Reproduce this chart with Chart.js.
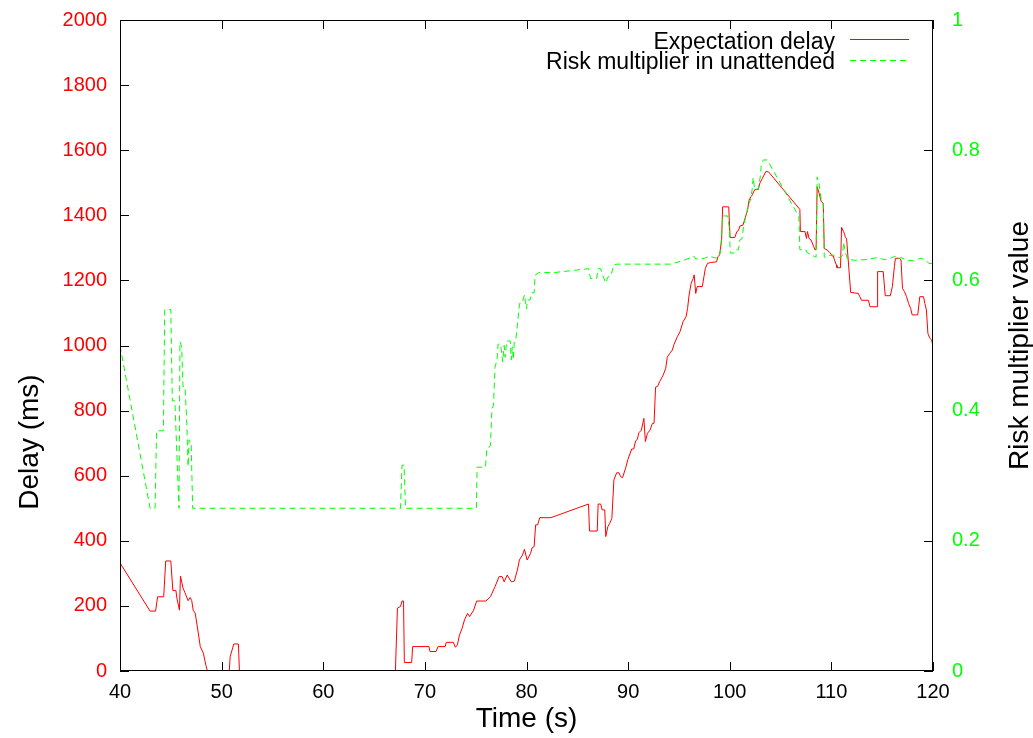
<!DOCTYPE html>
<html><head><meta charset="utf-8">
<script src="https://cdn.jsdelivr.net/npm/chart.js@4"></script>
<style>html,body{margin:0;padding:0;background:#fff;overflow:hidden}</style>
</head><body>
<canvas id="c" width="1033" height="738"></canvas>
<script>
// ---- data ----
const delayTime = [40.0,42.96,43.5,43.7,44.3,44.5,45.0,45.2,45.5,45.6,45.85,45.95,46.2,46.4,46.7,46.9,47.06,47.2,47.4,47.7,47.9,48.2,48.45,48.6,50.75,50.84,51.2,51.65,51.75,67.1,67.3,67.6,67.75,67.9,67.98,68.7,68.8,70.4,70.5,71.1,71.3,72.0,72.1,72.8,73.0,73.2,73.4,73.66,73.9,74.2,74.4,74.8,75.1,76.0,76.45,76.9,77.3,77.6,77.8,78.1,78.5,78.8,79.1,79.3,79.6,79.8,80.06,80.4,80.56,80.75,80.9,81.1,81.3,82.4,86.1,86.2,86.96,87.05,87.3,87.45,87.7,87.8,88.0,88.2,88.4,88.6,88.87,89.1,89.26,89.45,89.75,89.98,90.35,90.55,90.74,90.9,91.06,91.3,91.55,91.7,91.9,92.15,92.4,92.55,92.7,92.9,93.1,93.45,93.7,93.85,94.1,94.35,94.5,94.84,95.1,95.4,95.7,95.85,96.0,96.2,96.4,96.5,96.65,96.8,97.3,97.46,97.6,97.8,98.1,98.7,98.85,99.0,99.2,99.3,99.9,100.03,100.5,100.7,100.85,101.0,101.3,101.5,101.75,101.9,102.07,102.2,102.46,102.8,102.98,103.2,103.55,103.8,106.9,106.95,107.4,107.55,107.65,107.8,108.0,108.25,108.4,108.5,108.6,108.8,109.0,109.2,109.3,109.6,109.85,110.1,110.2,110.3,110.5,110.55,110.9,111.0,111.2,111.3,111.35,111.5,111.9,112.65,112.8,112.96,113.65,113.8,114.5,114.55,115.1,115.3,115.8,116.0,116.2,116.3,116.7,116.85,117.0,117.2,117.4,117.6,117.8,117.95,118.5,118.7,119.07,119.2,119.35,119.5,119.7,119.87,120.0];
const delayMs = [332,184,184,228,228,338,338,247,247,224,187,292,255,240,216,226,216,187,178,117,75,55,18,0,0,44,83,83,0,0,193,198,215,215,26,26,75,75,60,60,75,75,88,88,73,80,110,131,157,177,167,187,215,215,228,259,290,290,274,295,274,276,310,341,356,374,341,361,379,382,449,449,471,471,513,430,430,513,513,495,495,413,443,454,469,587,609,609,597,594,623,650,682,682,707,711,732,740,776,705,730,740,761,761,872,874,889,909,930,964,976,986,1002,1027,1042,1073,1088,1114,1155,1191,1206,1217,1160,1181,1181,1211,1237,1252,1255,1257,1273,1278,1324,1426,1426,1332,1332,1350,1353,1367,1370,1390,1416,1446,1457,1462,1479,1479,1500,1513,1534,1534,1418,1350,1350,1329,1350,1329,1324,1305,1293,1298,1488,1467,1442,1437,1298,1293,1285,1275,1275,1263,1247,1239,1239,1363,1350,1342,1335,1327,1163,1160,1150,1139,1139,1119,1119,1227,1227,1153,1153,1181,1242,1268,1268,1263,1175,1165,1150,1129,1114,1094,1094,1150,1150,1129,1109,1037,1022,1017,996];

const riskTime = [40.0,42.96,43.45,43.6,44.27,44.4,45.0,45.15,45.4,45.8,45.9,46.07,46.2,46.4,46.56,46.7,46.8,47.0,47.15,67.6,67.75,67.95,68.1,75.07,75.14,75.96,76.1,76.45,76.6,76.75,76.9,77.1,77.2,77.45,77.66,77.8,77.9,78.05,78.4,78.5,78.6,78.7,78.8,78.95,79.1,79.3,79.4,79.6,79.8,79.9,80.0,80.1,80.35,80.5,80.75,80.85,81.2,82.7,86.1,86.3,86.9,87.05,87.3,87.5,87.8,88.0,88.3,88.6,88.9,94.2,95.5,96.5,96.65,97.5,98.0,98.45,98.8,98.95,99.1,99.3,99.8,99.96,100.05,100.45,100.6,100.85,101.0,101.2,101.35,101.6,101.8,102.07,102.2,102.3,102.46,102.8,103.0,103.1,103.3,103.7,106.8,106.9,107.5,107.6,108.1,108.4,108.5,108.6,108.75,108.9,109.0,109.2,109.3,109.6,109.8,110.2,110.5,110.9,111.1,111.2,111.3,111.4,111.6,112.4,113.4,114.5,115.2,115.7,116.1,116.3,116.6,116.85,117.5,118.1,118.8,119.3,119.6,120.0];
const riskValue = [0.50,0.25,0.25,0.369,0.369,0.555,0.555,0.415,0.415,0.25,0.506,0.498,0.437,0.437,0.386,0.314,0.355,0.352,0.25,0.25,0.316,0.316,0.25,0.25,0.313,0.313,0.342,0.346,0.403,0.408,0.467,0.478,0.502,0.502,0.475,0.50,0.482,0.507,0.507,0.478,0.498,0.478,0.506,0.509,0.531,0.562,0.567,0.567,0.578,0.567,0.556,0.57,0.57,0.581,0.581,0.608,0.612,0.612,0.618,0.603,0.603,0.618,0.618,0.608,0.596,0.605,0.607,0.624,0.625,0.625,0.631,0.637,0.633,0.634,0.637,0.635,0.634,0.639,0.644,0.699,0.699,0.68,0.642,0.642,0.647,0.647,0.662,0.664,0.682,0.70,0.713,0.726,0.739,0.758,0.739,0.741,0.759,0.777,0.785,0.785,0.698,0.647,0.647,0.643,0.639,0.636,0.636,0.759,0.752,0.736,0.724,0.719,0.636,0.635,0.638,0.639,0.636,0.635,0.639,0.659,0.649,0.642,0.632,0.631,0.632,0.635,0.632,0.633,0.636,0.637,0.633,0.635,0.631,0.630,0.634,0.631,0.626,0.626];

const xTicks = [40,50,60,70,80,90,100,110,120];
const delayTicks = [0,200,400,600,800,1000,1200,1400,1600,1800,2000];
const riskTicks = [0,0.2,0.4,0.6,0.8,1];

const seriesNames = ['Expectation delay','Risk multiplier in unattended'];
const axisTitles = {x:'Time (s)', y:'Delay (ms)', y2:'Risk multiplier value'};

// ---- chart ----
const RED = '#ff0000', GREEN = '#00ff00';
const FONT = '"Liberation Sans", Arial, sans-serif';

const toPts = (xs, ys) => xs.map((x,i)=>({x:x, y:ys[i]}));

const decor = {
  id:'decor',
  afterDatasetsDraw(chart){
    const {ctx, chartArea:a, scales} = chart;
    ctx.save();
    ctx.strokeStyle = '#000';
    ctx.lineWidth = 1;
    ctx.setLineDash([]);
    // frame
    ctx.strokeRect(a.left+0.5, a.top+0.5, a.right-a.left-1, a.bottom-a.top-1);
    const TL = 9;
    ctx.beginPath();
    xTicks.forEach(v=>{
      const px = Math.round(scales.x.getPixelForValue(v))+0.5;
      ctx.moveTo(px, a.bottom); ctx.lineTo(px, a.bottom-TL);
      ctx.moveTo(px, a.top); ctx.lineTo(px, a.top+TL);
    });
    delayTicks.forEach(v=>{
      const py = Math.round(scales.y.getPixelForValue(v))+0.5;
      ctx.moveTo(a.left, py); ctx.lineTo(a.left+TL, py);
    });
    riskTicks.forEach(v=>{
      const py = Math.round(scales.y2.getPixelForValue(v))+0.5;
      ctx.moveTo(a.right, py); ctx.lineTo(a.right-TL, py);
    });
    ctx.stroke();

    // legend
    ctx.font = '23px ' + FONT;
    ctx.fillStyle = '#000';
    ctx.textAlign = 'right';
    ctx.textBaseline = 'alphabetic';
    ctx.fillText(seriesNames[0], 835, 48.5);
    ctx.fillText(seriesNames[1], 835, 68.5);
    ctx.beginPath();
    ctx.strokeStyle = RED;
    ctx.moveTo(850, 39.5); ctx.lineTo(909, 39.5);
    ctx.stroke();
    ctx.beginPath();
    ctx.strokeStyle = GREEN;
    ctx.setLineDash([6,4]);
    ctx.moveTo(850, 60.5); ctx.lineTo(909, 60.5);
    ctx.stroke();
    ctx.setLineDash([]);

    // axis titles
    ctx.font = '28px ' + FONT;
    ctx.fillStyle = '#000';
    ctx.textAlign = 'center';
    ctx.fillText(axisTitles.x, (a.left+a.right)/2, 727);
    const cy = (a.top+a.bottom)/2;
    ctx.save(); ctx.translate(38, 442); ctx.rotate(-Math.PI/2);
    ctx.fillText(axisTitles.y, 0, 0); ctx.restore();
    ctx.save(); ctx.translate(1028, cy); ctx.rotate(-Math.PI/2);
    ctx.fillText(axisTitles.y2, 0, 0); ctx.restore();
    ctx.restore();
  }
};

const tickFont = {family: FONT, size: 20};
const fitV = w => s => { s.width = w; s.paddingTop = 0; s.paddingBottom = 0; };

new Chart(document.getElementById('c'), {
  type:'line',
  data:{
    datasets:[
      {label:seriesNames[0], data:toPts(delayTime, delayMs), yAxisID:'y',
       borderColor:RED, borderWidth:1, pointRadius:0, tension:0, order:2},
      {label:seriesNames[1], data:toPts(riskTime, riskValue), yAxisID:'y2',
       borderColor:GREEN, borderWidth:1, borderDash:[6,4], pointRadius:0, tension:0, order:1}
    ]
  },
  options:{
    responsive:false, animation:false, devicePixelRatio:1,
    layout:{padding:{top:20,left:0,right:0,bottom:0}},
    plugins:{legend:{display:false}, tooltip:{enabled:false}},
    scales:{
      x:{type:'linear', min:40, max:120, position:'bottom',
         afterBuildTicks:s=>{s.ticks = xTicks.map(v=>({value:v}));},
         afterFit:s=>{s.height = 67;},
         grid:{display:false, drawTicks:false}, border:{display:false},
         ticks:{color:'#000', font:tickFont, padding:9, maxRotation:0, autoSkip:false,
                callback:v=>String(v)}},
      y:{type:'linear', min:0, max:2000, position:'left',
         afterBuildTicks:s=>{s.ticks = delayTicks.map(v=>({value:v}));},
         afterFit:fitV(120),
         grid:{display:false, drawTicks:false}, border:{display:false},
         ticks:{color:RED, font:tickFont, padding:13, autoSkip:false, callback:v=>String(v)}},
      y2:{type:'linear', min:0, max:1, position:'right',
         afterBuildTicks:s=>{s.ticks = riskTicks.map(v=>({value:v}));},
         afterFit:fitV(100),
         grid:{display:false, drawTicks:false}, border:{display:false},
         ticks:{color:GREEN, font:tickFont, padding:19, autoSkip:false, callback:v=>String(v)}}
    }
  },
  plugins:[decor]
});
</script>
</body></html>
